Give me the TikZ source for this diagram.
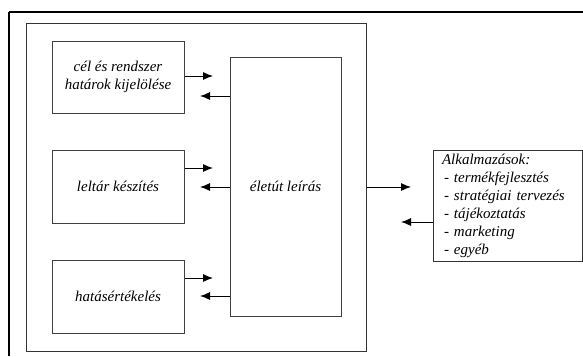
\documentclass[tikz,border=0pt]{standalone}
\usepackage{fontspec}
\setmainfont{Liberation Serif}
\usepackage{tikz}
\usetikzlibrary{arrows.meta}
\pgfdeclarelayer{edgelayer}
\pgfdeclarelayer{nodelayer}
\pgfsetlayers{edgelayer,nodelayer,main}
\tikzstyle{none}=[inner sep=0pt]
\tikzstyle{box}=[rectangle,draw=black!75,line width=0.9pt,fill=white,align=center,font=\itshape\fontsize{15}{18}\selectfont]
\tikzstyle{frame}=[rectangle,draw=black!80,line width=0.9pt,inner sep=0pt]
\tikzstyle{usebox}=[rectangle,draw=black!80,line width=0.9pt,fill=white,inner xsep=9pt,text width=131pt,align=left,font=\itshape\fontsize{15}{18}\selectfont]
\tikzstyle{transition}=[-{Latex[length=10pt,width=8pt]},draw=black,line width=0.9pt]
\tikzstyle{simple}=[-,draw=black,line width=1.2pt]

\begin{document}
\begin{tikzpicture}[x=1pt,y=1pt]
	\useasboundingbox (0,0) rectangle (583,-356);
	\begin{pgfonlayer}{nodelayer}
		\node [style=none] (0) at (9, -12) {};
		\node [style=none] (1) at (583, -12) {};
		\node [style=none] (2) at (9, -356) {};
		\node [style=frame, minimum width=340pt, minimum height=328pt] (3) at (196, -187) {};
		\node [style=box, minimum width=132pt, minimum height=72pt] (4) at (118, -77) {cél és rendszer\\határok kijelölése};
		\node [style=box, minimum width=132pt, minimum height=73pt] (5) at (118, -186.5) {leltár készítés};
		\node [style=box, minimum width=132pt, minimum height=73pt] (6) at (118, -296.5) {hatásértékelés};
		\node [style=box, minimum width=111pt, minimum height=259pt] (7) at (285.5, -186.5) {életút leírás};
		\node [style=usebox, minimum height=110pt] (8) at (507.5, -206) {Alkalmazások:\\\hspace{2pt}- termékfejlesztés\\\hspace{2pt}- stratégiai tervezés\\\hspace{2pt}- tájékoztatás\\\hspace{2pt}- marketing\\\hspace{2pt}- egyéb};
		\node [style=none] (9) at (184, -76) {};
		\node [style=none] (10) at (213, -76) {};
		\node [style=none] (11) at (230, -96) {};
		\node [style=none] (12) at (200, -96) {};
		\node [style=none] (13) at (184, -168) {};
		\node [style=none] (14) at (213, -168) {};
		\node [style=none] (15) at (230, -187) {};
		\node [style=none] (16) at (200, -187) {};
		\node [style=none] (17) at (184, -278) {};
		\node [style=none] (18) at (213, -278) {};
		\node [style=none] (19) at (230, -296) {};
		\node [style=none] (20) at (200, -296) {};
		\node [style=none] (21) at (366, -187) {};
		\node [style=none] (22) at (411, -187) {};
		\node [style=none] (23) at (433, -222) {};
		\node [style=none] (24) at (401, -222) {};
	\end{pgfonlayer}
	\begin{pgfonlayer}{edgelayer}
		\draw [style=simple] (2.center) to (0.center);
		\draw [style=simple] (0.center) to (1.center);
		\draw [style=transition] (9.center) to (10.center);
		\draw [style=transition] (11.center) to (12.center);
		\draw [style=transition] (13.center) to (14.center);
		\draw [style=transition] (15.center) to (16.center);
		\draw [style=transition] (17.center) to (18.center);
		\draw [style=transition] (19.center) to (20.center);
		\draw [style=transition] (21.center) to (22.center);
		\draw [style=transition] (23.center) to (24.center);
	\end{pgfonlayer}
\end{tikzpicture}
\end{document}
